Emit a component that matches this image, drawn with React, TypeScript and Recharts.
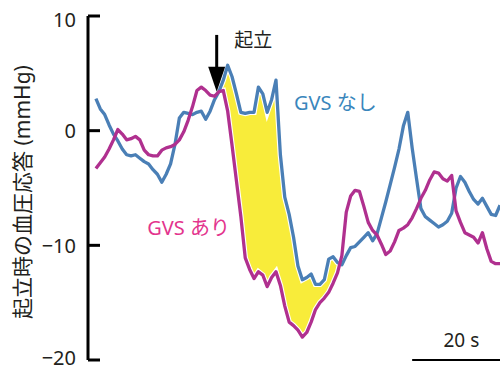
import React from 'react';
import {
  ComposedChart,
  Line,
  Area,
  XAxis,
  YAxis,
  ReferenceLine,
  ReferenceDot,
  Label,
} from 'recharts';

// Time in seconds (one sample per second)
const time: number[] = Array.from({ length: 93 }, (_, i) => i);

// Blood pressure change on standing, mmHg — without GVS
const withoutGVS: number[] = [
  2.8, 1.9, 1.4, 0.5, -0.3, -0.9, -1.6, -2.1, -2.2, -2.1,
  -2.4, -2.7, -2.9, -3.4, -3.8, -4.5, -3.8, -2.9, -1.2, 1.1,
  1.6, 1.5, 1.4, 1.6, 1.7, 1.0, 1.7, 2.7, 3.4, 4.4,
  5.7, 4.7, 3.2, 1.6, 1.5, 1.6, 1.6, 3.8, 3.2, 1.6,
  2.7, 4.4, -2.1, -5.8, -7.3, -9.3, -11.8, -13.0, -12.8, -12.5,
  -13.4, -13.4, -13.0, -11.2, -11.0, -11.5, -11.7, -10.9, -10.2, -10.1,
  -9.7, -9.3, -8.9, -9.6, -9.0, -7.6, -6.2, -4.7, -3.2, -1.6,
  0.4, 1.6, -1.5, -4.2, -6.8, -7.5, -7.8, -8.1, -8.4, -8.2,
  -7.9, -7.2, -5.0, -4.0, -4.5, -5.3, -6.0, -6.4, -5.9, -6.6,
  -7.3, -7.4, -6.5,
];

// Blood pressure change on standing, mmHg — with GVS
const withGVS: number[] = [
  -3.3, -2.8, -2.3, -1.6, -0.8, 0.1, -0.3, -0.8, -0.7, -0.5,
  -0.8, -1.7, -2.1, -2.2, -2.2, -1.7, -1.5, -1.4, -1.2, -0.8,
  -0.1, 0.9, 2.1, 3.5, 3.8, 3.5, 3.1, 3.0, 3.4, 3.5,
  1.7, -1.3, -4.4, -7.5, -11.1, -12.1, -12.9, -12.3, -12.6, -13.6,
  -12.8, -12.3, -13.5, -15.3, -16.7, -17.0, -17.4, -18.0, -17.6, -16.7,
  -15.6, -15.0, -14.6, -14.1, -13.3, -12.4, -10.9, -7.1, -5.7, -5.2,
  -5.3, -6.6, -8.0, -8.7, -9.1, -9.9, -10.8, -10.5, -9.7, -8.7,
  -8.5, -8.2, -7.6, -6.8, -5.9, -5.2, -4.3, -3.6, -3.7, -4.2,
  -4.4, -3.9, -7.0, -8.0, -8.9, -9.1, -9.3, -9.8, -8.9, -10.3,
  -11.4, -11.6, -11.6,
];

const yTicks: number[] = [-20, -10, 0, 10];

// Shaded difference between the two responses after standing
const FILL_FROM = 28;
const FILL_TO = 56;

// Standing onset marker and the 20 s scale bar
const STAND_T = 27.5;
const SCALE_FROM = 72;
const SCALE_TO = 92;

const BLUE = '#4a7fb6';
const MAGENTA = '#b0308f';
const BLUE_TEXT = '#3a86bc';
const PINK_TEXT = '#e3348d';
const YELLOW = '#f8ec3a';
const INK = '#231f20';
const FONT = "'Noto Sans', 'Noto Sans CJK JP', sans-serif";

const rows = time.map((t, i) => ({
  t,
  withoutGVS: withoutGVS[i],
  withGVS: withGVS[i],
  band: i >= FILL_FROM && i <= FILL_TO ? [withGVS[i], withoutGVS[i]] : null,
}));

const fmt = (v: number) => (v < 0 ? `\u2212${Math.abs(v)}` : `${v}`);

// Baseline offset of each tick label below its tick mark
const baselineShift = (v: number) => (v === 10 ? 11 : v === -20 ? 4.5 : 7.5);

const YTick = (props: any) => {
  const { x, y, payload } = props;
  return (
    <g>
      <text
        x={x}
        y={y + baselineShift(payload.value)}
        textAnchor="end"
        fontSize={20}
        fontFamily={FONT}
        fill={INK}
      >
        {fmt(payload.value)}
      </text>
      <line x1={x + 12} x2={x + 24} y1={y} y2={y} stroke="#000" strokeWidth={3} />
    </g>
  );
};

const YLabel = (props: any) => {
  const vb = props.viewBox || { x: 0, y: 16, width: 88, height: 344 };
  const cx = vb.x + 22;
  const cy = vb.y + vb.height / 2 + 4;
  return (
    <text
      x={cx}
      y={cy}
      transform={`rotate(-90 ${cx} ${cy})`}
      textAnchor="middle"
      dominantBaseline="central"
      fontSize={21}
      fontFamily={FONT}
      fill={INK}
    >
      起立時の血圧応答 (mmHg)
    </text>
  );
};

const StandArrow = (props: any) => {
  const { x1, y1, x2, y2 } = props;
  const head = 25;
  const half = 8.5;
  return (
    <g>
      <line x1={x1} y1={y1} x2={x2} y2={y2 - head + 2} stroke="#000" strokeWidth={3} />
      <polygon
        points={`${x2 - half},${y2 - head} ${x2 + half},${y2 - head} ${x2},${y2}`}
        fill="#000"
      />
    </g>
  );
};

const textLabel = (value: string, fill: string, fontSize = 20) => ({
  value,
  position: 'center' as const,
  fill,
  fontSize,
  fontFamily: FONT,
});

export default function App() {
  return (
    <div style={{ position: 'absolute', left: 0, top: 0, width: 500, height: 371, background: '#fff' }}>
      <ComposedChart
        width={500}
        height={371}
        data={rows}
        margin={{ top: 16, right: 0, bottom: 11, left: 0 }}
      >
        <XAxis type="number" dataKey="t" domain={[-1.8, 92]} hide allowDataOverflow />
        <YAxis
          type="number"
          domain={[-20, 10]}
          ticks={yTicks}
          interval={0}
          width={88}
          tickSize={0}
          tickMargin={12}
          tickLine={false}
          axisLine={{ stroke: '#000', strokeWidth: 3 }}
          tick={<YTick />}
          allowDataOverflow
        >
          <Label content={<YLabel />} />
        </YAxis>

        <Area
          dataKey="band"
          type="linear"
          fill={YELLOW}
          fillOpacity={1}
          stroke="none"
          dot={false}
          activeDot={false}
          isAnimationActive={false}
        />

        <Line dataKey="withoutGVS" name="halo-a" type="linear" stroke="#fff" strokeWidth={5.5} dot={false} activeDot={false} isAnimationActive={false} />
        <Line dataKey="withGVS" name="halo-b" type="linear" stroke="#fff" strokeWidth={5.5} dot={false} activeDot={false} isAnimationActive={false} />
        <Line dataKey="withoutGVS" name="GVS なし" type="linear" stroke={BLUE} strokeWidth={3.3} strokeLinejoin="round" dot={false} activeDot={false} isAnimationActive={false} />
        <Line dataKey="withGVS" name="GVS あり" type="linear" stroke={MAGENTA} strokeWidth={3.3} strokeLinejoin="round" dot={false} activeDot={false} isAnimationActive={false} />

        <ReferenceLine
          segment={[{ x: STAND_T, y: 8.35 }, { x: STAND_T, y: 3.4 }]}
          ifOverflow="visible"
          shape={<StandArrow />}
        />
        <ReferenceLine
          segment={[{ x: SCALE_FROM, y: -20 }, { x: SCALE_TO, y: -20 }]}
          stroke="#000"
          strokeWidth={2}
          ifOverflow="visible"
        />

        <ReferenceDot x={35.8} y={7.9} r={1} fill="none" stroke="none" ifOverflow="visible" label={textLabel('起立', INK, 19)} />
        <ReferenceDot x={54.5} y={2.4} r={1} fill="none" stroke="none" ifOverflow="visible" label={textLabel('GVS なし', BLUE_TEXT)} />
        <ReferenceDot x={21.1} y={-8.5} r={1} fill="none" stroke="none" ifOverflow="visible" label={textLabel('GVS あり', PINK_TEXT)} />
        <ReferenceDot x={83.2} y={-18.3} r={1} fill="none" stroke="none" ifOverflow="visible" label={textLabel('20 s', INK, 19)} />
      </ComposedChart>
    </div>
  );
}
